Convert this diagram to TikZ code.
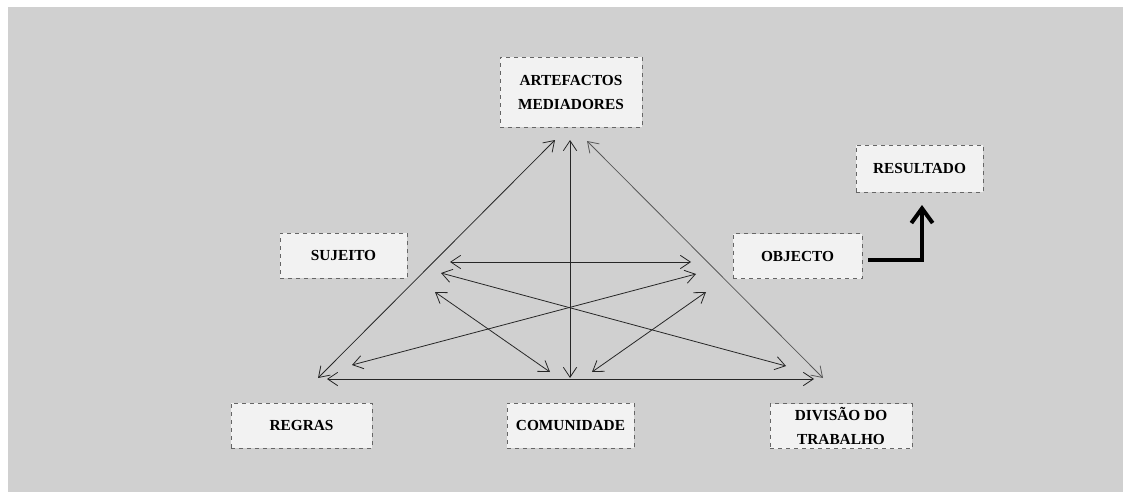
\documentclass[tikz,border=0pt]{standalone}
\usepackage{fontspec}
\setmainfont{Liberation Serif}
\usepackage{amsmath}
\usetikzlibrary{arrows.meta}

\begin{document}
\begin{tikzpicture}[x=0.75pt,y=-0.75pt]

\tikzstyle{box}=[draw=black!60,dashed,fill=black!5,inner sep=0pt,align=center,
  font=\fontsize{11.5}{18}\selectfont\bfseries,minimum height=33.75pt]
\tikzstyle{link}=[{Straight Barb[length=7.5pt,width=10pt]}-{Straight Barb[length=7.5pt,width=10pt]},black!85,line width=0.6pt]
\tikzstyle{result}=[-{Straight Barb[length=11pt,width=16pt]},line width=3pt]

% background
\fill[white](0,0)rectangle(1123,492);
\fill[black!18.5](8,7)rectangle(1123,492);
\useasboundingbox(0,0)rectangle(1123,492);

\node[box,minimum width=106.5pt,minimum height=52.5pt](art)at(571,92){ARTEFACTOS\\MEDIADORES};
\node[box,minimum width=95.25pt](suj)at(343.5,255.5){SUJEITO};
\node[box,minimum width=96.75pt](obj)at(797.5,256){OBJECTO};
\node[box,minimum width=95.25pt,minimum height=35.25pt](res)at(919.5,168.5){RESULTADO};
\node[box,minimum width=105.75pt](reg)at(301.5,425.5){REGRAS};
\node[box,minimum width=95.25pt](com)at(570.5,425.5){COMUNIDADE};
\node[box,minimum width=106.5pt](div)at(841,426){DIVISÃO DO\\TRABALHO};

% arrow ends
\coordinate(artL)at(555,140);
\coordinate(artC)at(570,140);
\coordinate(artR)at(587,141);
\coordinate(regT)at(318,378);
\coordinate(comT)at(570,378);
\coordinate(divT)at(823,378);
\coordinate(baseL)at(327,379);
\coordinate(baseR)at(814,379);
\coordinate(sujA)at(450,262);
\coordinate(objA)at(691,262);
\coordinate(sujB)at(441,273);
\coordinate(divB)at(786,366);
\coordinate(regB)at(352,365);
\coordinate(objB)at(696,274);
\coordinate(sujC)at(435,292);
\coordinate(comL)at(550,372);
\coordinate(comR)at(592,372);
\coordinate(objC)at(706,292);
\coordinate(resB)at(922,205);

\draw[link](artL)--(regT);
\draw[link](artC)--(comT);
\draw[link,black!65](artR)--(divT);
\draw[link](baseL)--(baseR);
\draw[link](sujA)--(objA);
\draw[link](sujB)--(divB);
\draw[link](regB)--(objB);
\draw[link](sujC)--(comL);
\draw[link](comR)--(objC);

\draw[result]([xshift=4.5pt,yshift=-3pt]obj.east)-|(resB);

\end{tikzpicture}
\end{document}
